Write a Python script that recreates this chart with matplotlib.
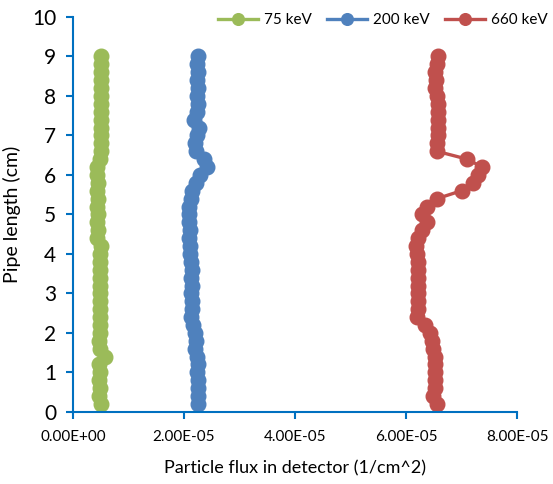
'''Particle flux along the pipe for three photon energies.'''

import matplotlib
matplotlib.use("Agg")
import matplotlib.pyplot as plt
from matplotlib.ticker import FuncFormatter

# Pipe positions (cm), 0.2 cm steps from 0.2 to 9.0
length = [0.2, 0.4, 0.6, 0.8, 1.0, 1.2, 1.4, 1.6, 1.8, 2.0,
          2.2, 2.4, 2.6, 2.8, 3.0, 3.2, 3.4, 3.6, 3.8, 4.0,
          4.2, 4.4, 4.6, 4.8, 5.0, 5.2, 5.4, 5.6, 5.8, 6.0,
          6.2, 6.4, 6.6, 6.8, 7.0, 7.2, 7.4, 7.6, 7.8, 8.0,
          8.2, 8.4, 8.6, 8.8, 9.0]

# Flux values (units of 1e-5 per cm^2)
flux_75 = [0.51, 0.47, 0.48, 0.47, 0.48, 0.47, 0.58, 0.48, 0.47, 0.48,
           0.49, 0.48, 0.49, 0.48, 0.48, 0.49, 0.48, 0.49, 0.48, 0.49,
           0.50, 0.44, 0.45, 0.44, 0.45, 0.44, 0.45, 0.44, 0.45, 0.44,
           0.44, 0.49, 0.50, 0.51, 0.50, 0.51, 0.50, 0.51, 0.50, 0.51,
           0.50, 0.51, 0.50, 0.51, 0.50]
flux_200 = [2.25, 2.25, 2.26, 2.25, 2.24, 2.25, 2.24, 2.20, 2.21, 2.20,
            2.17, 2.12, 2.14, 2.14, 2.13, 2.14, 2.13, 2.14, 2.12, 2.10,
            2.10, 2.09, 2.10, 2.09, 2.09, 2.09, 2.12, 2.15, 2.21, 2.28,
            2.41, 2.36, 2.22, 2.20, 2.24, 2.27, 2.18, 2.24, 2.25, 2.24,
            2.25, 2.24, 2.25, 2.24, 2.25]
flux_660 = [6.56, 6.49, 6.52, 6.52, 6.52, 6.52, 6.52, 6.49, 6.47, 6.43,
            6.34, 6.20, 6.22, 6.22, 6.22, 6.22, 6.22, 6.22, 6.21, 6.20,
            6.18, 6.22, 6.28, 6.38, 6.28, 6.38, 6.56, 7.00, 7.21, 7.30,
            7.37, 7.10, 6.55, 6.56, 6.58, 6.57, 6.58, 6.57, 6.58, 6.55,
            6.52, 6.54, 6.53, 6.55, 6.58]

series = [("75 keV", flux_75, "#9BBB59"),
          ("200 keV", flux_200, "#4F81BD"),
          ("660 keV", flux_660, "#C0504D")]

plt.rcParams["font.family"] = ["Lato", "DejaVu Sans"]

fig = plt.figure(figsize=(5.53, 4.84), dpi=100)
ax = fig.add_axes([0.132, 0.149, 0.803, 0.816])

for name, vals, col in series:
	ax.plot([v * 1e-5 for v in vals], length, color=col, marker="o",
	        markersize=10.5, linewidth=2.4, label=name)

ax.set_xlim(0, 8e-5)
ax.set_ylim(0, 10)
ax.set_xticks([0, 2e-5, 4e-5, 6e-5, 8e-5])
ax.set_yticks(range(0, 11))
ax.xaxis.set_major_formatter(FuncFormatter(lambda v, p: ("%.2E" % v)))

axis_col = "#0070C0"
for s in ["top", "right"]:
	ax.spines[s].set_visible(False)
for s in ["left", "bottom"]:
	ax.spines[s].set_color(axis_col)
	ax.spines[s].set_linewidth(1.5)
ax.tick_params(axis="both", direction="out", length=5, width=1.5, color=axis_col)
ax.tick_params(axis="x", labelsize=11, pad=8)
ax.tick_params(axis="y", labelsize=15, pad=7)

ax.set_xlabel("Particle flux in detector (1/cm^2)", fontsize=13, labelpad=12)
ax.set_ylabel("Pipe length (cm)", fontsize=14, labelpad=8)

ax.legend(loc="upper right", bbox_to_anchor=(1.1, 1.045), ncol=3, frameon=False,
          fontsize=11, handlelength=2.6, columnspacing=1.0, handletextpad=0.4,
          markerscale=0.8)

fig.savefig("out.png", dpi=100)
